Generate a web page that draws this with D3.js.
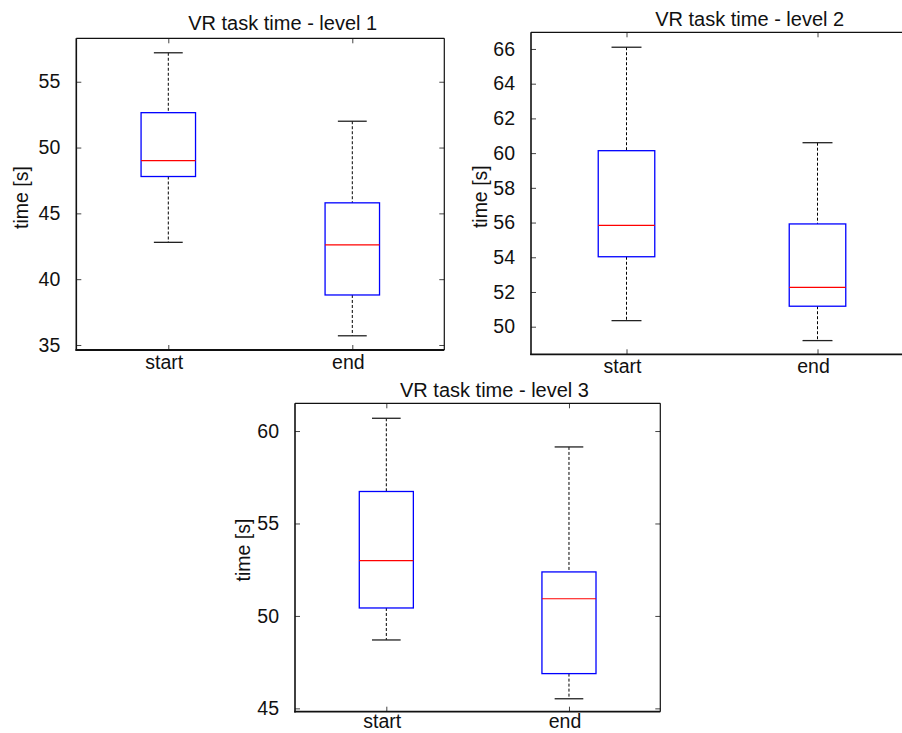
<!DOCTYPE html>
<html>
<head>
<meta charset="utf-8">
<script src="https://cdn.jsdelivr.net/npm/d3@7/dist/d3.min.js"></script>
<style>
  html, body { margin: 0; padding: 0; background: #fff; }
  svg { display: block; font-family: "Liberation Sans", Arial, sans-serif; }
</style>
</head>
<body>
<svg id="chart" width="902" height="733"></svg>
<script>
// Session labels shared by all three panels
const categories = ["start", "end"];

// Level 1 box statistics (seconds), one entry per session
const level1Low    = [42.8, 35.7];
const level1Q1     = [47.8, 38.8];
const level1Median = [49.0, 42.6];
const level1Q3     = [52.65, 45.8];
const level1High   = [57.2, 52.0];
const level1Ticks  = [35, 40, 45, 50, 55];
const level1Limits = [34.62, 58.3];

// Level 2 box statistics (seconds)
const level2Low    = [50.35, 49.2];
const level2Q1     = [54.03, 51.18];
const level2Median = [55.84, 52.27];
const level2Q3     = [60.14, 55.92];
const level2High   = [66.1, 60.6];
const level2Ticks  = [50, 52, 54, 56, 58, 60, 62, 64, 66];
const level2Limits = [48.41, 66.96];

// Level 3 box statistics (seconds)
const level3Low    = [48.7, 45.52];
const level3Q1     = [50.43, 46.88];
const level3Median = [52.99, 50.93];
const level3Q3     = [56.73, 52.38];
const level3High   = [60.69, 59.14];
const level3Ticks  = [45, 50, 55, 60];
const level3Limits = [44.82, 61.5];

const titles = ["VR task time - level 1", "VR task time - level 2", "VR task time - level 3"];
const yLabel = "time [s]";

// Panel geometry (pixels)
const panels = [
  { title: titles[0], low: level1Low, q1: level1Q1, med: level1Median, q3: level1Q3, high: level1High,
    ticks: level1Ticks, limits: level1Limits,
    left: 76.3, top: 38.3, right: 444.3, bottom: 350, xlabGap: 19,
    titleX: 282.7, titleY: 30, ylabX: 20.7, ylabY: 197.5 },
  { title: titles[1], low: level2Low, q1: level2Q1, med: level2Median, q3: level2Q3, high: level2High,
    ticks: level2Ticks, limits: level2Limits,
    left: 531, top: 32.3, right: 913, bottom: 354.3, xlabGap: 19,
    titleX: 749.7, titleY: 26, ylabX: 480, ylabY: 196.7 },
  { title: titles[2], low: level3Low, q1: level3Q1, med: level3Median, q3: level3Q3, high: level3High,
    ticks: level3Ticks, limits: level3Limits,
    left: 295, top: 403.3, right: 660.3, bottom: 711.7, xlabGap: 16,
    titleX: 494.5, titleY: 397.3, ylabX: 243.3, ylabY: 550 }
];

const svg = d3.select("#chart");
const fontSize = 19.5;
const tickLen = 5;

panels.forEach(p => {
  const g = svg.append("g");
  const y = d3.scaleLinear().domain(p.limits).range([p.bottom, p.top]);
  const x = d3.scalePoint().domain(categories).range([p.left, p.right]).padding(0.5);
  const step = x.step();
  const boxW = step * 0.296;
  const capW = boxW * 0.53;

  // white plotting area
  g.append("rect")
    .attr("x", p.left).attr("y", p.top)
    .attr("width", p.right - p.left).attr("height", p.bottom - p.top)
    .attr("fill", "#fff");

  // left axis with inward ticks
  const leftAxis = d3.axisLeft(y).tickValues(p.ticks).tickSizeInner(-tickLen).tickSizeOuter(0).tickPadding(11 + tickLen);
  const la = g.append("g").attr("transform", `translate(${p.left},0)`).call(leftAxis);
  la.select(".domain").remove();
  la.selectAll(".tick line").attr("stroke", "#444");
  la.selectAll(".tick text").attr("font-size", fontSize).attr("fill", "#111")
    .attr("font-family", "Liberation Sans, Arial, sans-serif");

  // right mirrored ticks
  const ra = g.append("g").attr("transform", `translate(${p.right},0)`)
    .call(d3.axisRight(y).tickValues(p.ticks).tickSizeInner(-tickLen).tickSizeOuter(0).tickFormat(""));
  ra.select(".domain").remove();
  ra.selectAll(".tick line").attr("stroke", "#444");

  // bottom axis with category labels
  const ba = g.append("g").attr("transform", `translate(0,${p.bottom})`)
    .call(d3.axisBottom(x).tickSizeInner(-tickLen).tickSizeOuter(0).tickPadding(0));
  ba.select(".domain").remove();
  ba.selectAll(".tick line").attr("stroke", "#444");
  ba.selectAll(".tick text").attr("font-size", fontSize).attr("fill", "#111")
    .attr("font-family", "Liberation Sans, Arial, sans-serif")
    .attr("dy", null).attr("y", p.xlabGap).attr("x", -4.5);

  // top mirrored ticks
  const ta = g.append("g").attr("transform", `translate(0,${p.top})`)
    .call(d3.axisTop(x).tickSizeInner(-tickLen).tickSizeOuter(0).tickFormat(""));
  ta.select(".domain").remove();
  ta.selectAll(".tick line").attr("stroke", "#444");

  // frame
  g.append("line").attr("x1", p.left).attr("x2", p.right).attr("y1", p.top).attr("y2", p.top)
    .attr("stroke", "#111").attr("stroke-width", 1.2);
  g.append("line").attr("x1", p.right).attr("x2", p.right).attr("y1", p.top).attr("y2", p.bottom)
    .attr("stroke", "#111").attr("stroke-width", 1.2);
  g.append("line").attr("x1", p.left).attr("x2", p.left).attr("y1", p.top).attr("y2", p.bottom + 0.8)
    .attr("stroke", "#111").attr("stroke-width", 1.6);
  g.append("line").attr("x1", p.left - 0.8).attr("x2", p.right).attr("y1", p.bottom).attr("y2", p.bottom)
    .attr("stroke", "#111").attr("stroke-width", 1.8);

  // boxes
  categories.forEach((c, i) => {
    const cx = x(c);
    const bg = g.append("g");
    // dashed whiskers
    bg.append("line").attr("x1", cx).attr("x2", cx).attr("y1", y(p.high[i])).attr("y2", y(p.q3[i]))
      .attr("stroke", "#000").attr("stroke-width", 1).attr("stroke-dasharray", "3,2");
    bg.append("line").attr("x1", cx).attr("x2", cx).attr("y1", y(p.q1[i])).attr("y2", y(p.low[i]))
      .attr("stroke", "#000").attr("stroke-width", 1).attr("stroke-dasharray", "3,2");
    // caps
    [p.high[i], p.low[i]].forEach(v => {
      bg.append("line").attr("x1", cx - capW / 2).attr("x2", cx + capW / 2)
        .attr("y1", y(v)).attr("y2", y(v))
        .attr("stroke", "#222").attr("stroke-width", 1.3);
    });
    // box
    bg.append("rect")
      .attr("x", cx - boxW / 2).attr("y", y(p.q3[i]))
      .attr("width", boxW).attr("height", y(p.q1[i]) - y(p.q3[i]))
      .attr("fill", "none").attr("stroke", "#0000ff").attr("stroke-width", 1.3);
    // median
    bg.append("line").attr("x1", cx - boxW / 2).attr("x2", cx + boxW / 2)
      .attr("y1", y(p.med[i])).attr("y2", y(p.med[i]))
      .attr("stroke", "#ff0000").attr("stroke-width", 1.2);
  });

  // title
  g.append("text").attr("x", p.titleX).attr("y", p.titleY)
    .attr("text-anchor", "middle").attr("font-size", 20).attr("fill", "#111")
    .text(p.title);

  // y label
  g.append("text")
    .attr("transform", `translate(${p.ylabX},${p.ylabY}) rotate(-90)`)
    .attr("text-anchor", "middle").attr("dy", "0.35em")
    .attr("font-size", fontSize).attr("fill", "#111")
    .text(yLabel);
});
</script>
</body>
</html>
